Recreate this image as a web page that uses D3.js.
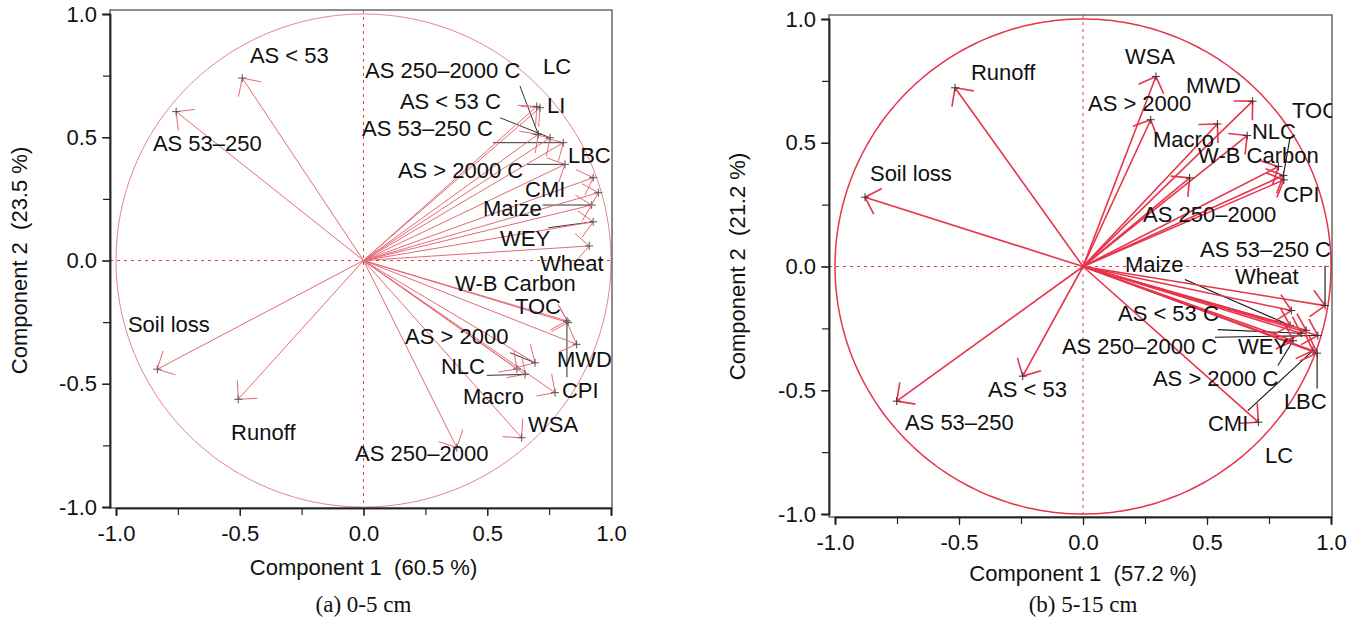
<!DOCTYPE html>
<html><head><meta charset="utf-8">
<script src="https://cdn.jsdelivr.net/npm/d3@7"></script>
<style>
body{margin:0;background:#fff;}
svg{display:block;}
text{font-family:"Liberation Sans",Arial,sans-serif;white-space:pre;}
</style></head>
<body><svg id="c" width="1360" height="621"></svg>
<script>
// ---------- Panel (a) 0-5 cm ----------
const namesA = ["AS < 53","AS 53–250","Soil loss","Runoff","AS 250–2000","WSA","CPI","Macro","NLC","AS > 2000","MWD","TOC","W-B Carbon","Wheat","WEY","Maize","CMI","LBC","AS > 2000 C","AS 53–250 C","AS < 53 C","AS 250–2000 C","LI","LC"];
const pc1A = [-0.49,-0.757,-0.833,-0.506,0.377,0.639,0.774,0.62,0.653,0.693,0.861,0.827,0.822,0.912,0.928,0.922,0.949,0.928,0.814,0.807,0.754,0.706,0.713,0.70];
const pc2A = [0.74,0.604,-0.441,-0.563,-0.759,-0.719,-0.536,-0.44,-0.462,-0.415,-0.34,-0.252,-0.245,0.059,0.157,0.225,0.275,0.336,0.39,0.478,0.498,0.512,0.62,0.625];
// label anchors (data units: left edge, baseline)
const labXA = [-0.459,-0.851,-0.952,-0.535,-0.034,0.665,0.802,0.402,0.313,0.168,0.782,0.612,0.370,0.713,0.552,0.483,0.653,0.826,0.139,-0.006,0.147,0.006,0.741,0.725];
const labYA = [0.801,0.444,-0.290,-0.728,-0.813,-0.696,-0.558,-0.582,-0.460,-0.339,-0.432,-0.217,-0.124,-0.043,0.059,0.181,0.258,0.396,0.335,0.505,0.615,0.740,0.598,0.757];
// leader lines: variable name and start point (data units)
const leadNamesA = ["AS 250–2000 C","AS < 53 C","AS 53–250 C","AS > 2000 C","Maize","WEY","W-B Carbon","NLC","AS > 2000"];
const leadXA = [0.632,0.552,0.523,0.661,0.724,0.747,0.822,0.498,0.592];
const leadYA = [0.708,0.579,0.478,0.390,0.225,0.133,-0.474,-0.466,-0.374];

// ---------- Panel (b) 5-15 cm ----------
const namesB = ["Runoff","Soil loss","AS 53–250","AS < 53","WSA","AS > 2000","MWD","Macro","NLC","AS 250–2000","W-B Carbon","TOC","CPI","AS 53–250 C","Wheat","Maize","WEY","AS < 53 C","AS 250–2000 C","AS > 2000 C","CMI","LBC","LC"];
const pc1B = [-0.516,-0.879,-0.751,-0.243,0.294,0.273,0.684,0.542,0.662,0.43,0.788,0.808,0.81,0.976,0.84,0.835,0.90,0.88,0.947,0.847,0.927,0.944,0.707];
const pc2B = [0.722,0.28,-0.544,-0.443,0.768,0.593,0.668,0.576,0.529,0.358,0.404,0.368,0.35,-0.158,-0.178,-0.238,-0.258,-0.27,-0.279,-0.30,-0.34,-0.35,-0.629];
const labXB = [-0.452,-0.859,-0.718,-0.383,0.169,0.020,0.415,0.282,0.681,0.242,0.464,0.843,0.806,0.472,0.613,0.169,0.625,0.141,-0.085,0.282,0.504,0.810,0.734];
const labYB = [0.752,0.347,-0.659,-0.529,0.820,0.630,0.703,0.481,0.517,0.178,0.420,0.598,0.259,0.040,-0.069,-0.024,-0.352,-0.222,-0.352,-0.481,-0.663,-0.574,-0.792];
const leadNamesB = ["TOC","AS 53–250 C","Maize","AS < 53 C","AS 250–2000 C","AS > 2000 C","CMI","LBC"];
const leadXB = [0.835,0.976,0.411,0.544,0.532,0.786,0.665,0.944];
const leadYB = [0.522,0.004,-0.053,-0.255,-0.286,-0.40,-0.582,-0.493];

const tickVals = [-1,-0.5,0,0.5,1];
const tickLabels = ["-1.0","-0.5","0.0","0.5","1.0"];
const minorVals = [-1,-0.75,-0.5,-0.25,0,0.25,0.5,0.75,1];

const panels = [
  {id:"a", names:namesA, pc1:pc1A, pc2:pc2A, lx:labXA, ly:labYA, ln:leadNamesA, lsx:leadXA, lsy:leadYA,
   xr:[116,611], yr:[507,14], frame:[110,10,612,508],
   xTitle:"Component 1  (60.5 %)", yTitle:"Component 2  (23.5 %)", caption:"(a) 0-5 cm",
   yTitleX:27, xTitleY:575, caption_y:612,
   arrowColor:"#e46a77", arrowW:1, circleColor:"#e5838d", circleW:1, plusColor:"#555", leadColor:"#333", leadW:1},
  {id:"b", names:namesB, pc1:pc1B, pc2:pc2B, lx:labXB, ly:labYB, ln:leadNamesB, lsx:leadXB, lsy:leadYB,
   xr:[835,1331], yr:[514,19], frame:[829,15,1332,517],
   xTitle:"Component 1  (57.2 %)", yTitle:"Component 2  (21.2 %)", caption:"(b) 5-15 cm",
   yTitleX:745, xTitleY:581, caption_y:612,
   arrowColor:"#e8334a", arrowW:1.6, circleColor:"#e8334a", circleW:1.5, plusColor:"#333", leadColor:"#111", leadW:1.1}
];

const FS = 22;
const svg = d3.select("#c");
const defs = svg.append("defs");

panels.forEach(P => {
  const x = d3.scaleLinear().domain([-1,1]).range(P.xr);
  const y = d3.scaleLinear().domain([-1,1]).range(P.yr);
  const [fx0,fy0,fx1,fy1] = P.frame;
  const g = svg.append("g");

  defs.append("clipPath").attr("id","clip"+P.id)
    .append("rect").attr("x",fx0).attr("y",fy0).attr("width",fx1-fx0).attr("height",fy1-fy0);
  const plot = g.append("g").attr("clip-path","url(#clip"+P.id+")");

  // zero lines
  plot.append("line").attr("x1",fx0).attr("x2",fx1).attr("y1",y(0)).attr("y2",y(0))
    .attr("stroke","#d9404f").attr("stroke-width",1).attr("stroke-dasharray","3,4");
  plot.append("line").attr("x1",x(0)).attr("x2",x(0)).attr("y1",fy0).attr("y2",fy1)
    .attr("stroke","#d9404f").attr("stroke-width",1).attr("stroke-dasharray","3,4");

  // unit circle
  const circ = d3.range(0,361,1).map(a => [Math.cos(a*Math.PI/180), Math.sin(a*Math.PI/180)]);
  plot.append("path").attr("d", d3.line().x(d=>x(d[0])).y(d=>y(d[1]))(circ))
    .attr("fill","none").attr("stroke",P.circleColor).attr("stroke-width",P.circleW);

  // leader lines
  P.ln.forEach((nm,i) => {
    const k = P.names.indexOf(nm);
    plot.append("line").attr("x1",x(P.lsx[i])).attr("y1",y(P.lsy[i]))
      .attr("x2",x(P.pc1[k])).attr("y2",y(P.pc2[k]))
      .attr("stroke",P.leadColor).attr("stroke-width",P.leadW);
  });

  // arrows
  P.names.forEach((nm,i) => {
    const tx = x(P.pc1[i]), ty = y(P.pc2[i]);
    const ox = x(0), oy = y(0);
    plot.append("line").attr("x1",ox).attr("y1",oy).attr("x2",tx).attr("y2",ty)
      .attr("stroke",P.arrowColor).attr("stroke-width",P.arrowW);
    const ang = Math.atan2(oy-ty, ox-tx);
    const L = 19, spread = 45*Math.PI/180;
    [-spread, spread].forEach(s => {
      plot.append("line").attr("x1",tx).attr("y1",ty)
        .attr("x2",tx+L*Math.cos(ang+s)).attr("y2",ty+L*Math.sin(ang+s))
        .attr("stroke",P.arrowColor).attr("stroke-width",P.arrowW);
    });
    plot.append("path").attr("d",`M${tx-4},${ty}H${tx+4}M${tx},${ty-4}V${ty+4}`)
      .attr("stroke",P.plusColor).attr("stroke-width",1);
  });

  // labels
  plot.selectAll("text.lab").data(P.names).enter().append("text")
    .attr("x",(d,i)=>x(P.lx[i])).attr("y",(d,i)=>y(P.ly[i]))
    .attr("font-size",FS).attr("fill","#111").text(d=>d);

  // frame
  g.append("rect").attr("x",fx0).attr("y",fy0).attr("width",fx1-fx0).attr("height",fy1-fy0)
    .attr("fill","none").attr("stroke","#444").attr("stroke-width",1.2);

  // axes
  const fmt = d => tickLabels[tickVals.indexOf(d)];
  const yAx = g.append("g").attr("transform",`translate(${fx0},0)`)
    .call(d3.axisLeft(y).tickValues(tickVals).tickFormat(fmt).tickSize(8).tickPadding(5));
  const yMin = g.append("g").attr("transform",`translate(${fx0},0)`)
    .call(d3.axisLeft(y).tickValues(minorVals).tickFormat("").tickSize(7));
  const xAx = g.append("g").attr("transform",`translate(0,${fy1})`)
    .call(d3.axisBottom(x).tickValues(tickVals).tickFormat(fmt).tickSize(8).tickPadding(9));
  const xMin = g.append("g").attr("transform",`translate(0,${fy1})`)
    .call(d3.axisBottom(x).tickValues(minorVals).tickFormat("").tickSize(7));
  [yAx,yMin,xAx,xMin].forEach(a => {
    a.select(".domain").attr("stroke","#222").attr("stroke-width",1.5);
    a.selectAll(".tick line").attr("stroke","#222").attr("stroke-width",1.2);
    a.selectAll("text").attr("font-size",FS).attr("fill","#111").attr("font-family","Liberation Sans, Arial, sans-serif");
  });

  // titles
  g.append("text").attr("x",(P.xr[0]+P.xr[1])/2).attr("y",P.xTitleY).attr("text-anchor","middle")
    .attr("font-size",FS).attr("fill","#111").text(P.xTitle);
  g.append("text").attr("transform",`translate(${P.yTitleX},${y(0)}) rotate(-90)`).attr("text-anchor","middle")
    .attr("font-size",FS).attr("fill","#111").text(P.yTitle);
  g.append("text").attr("x",(P.xr[0]+P.xr[1])/2).attr("y",P.caption_y).attr("text-anchor","middle")
    .attr("font-size",23).attr("fill","#111").style("font-family","'Liberation Serif','Times New Roman',serif").text(P.caption);
});
</script></body></html>
